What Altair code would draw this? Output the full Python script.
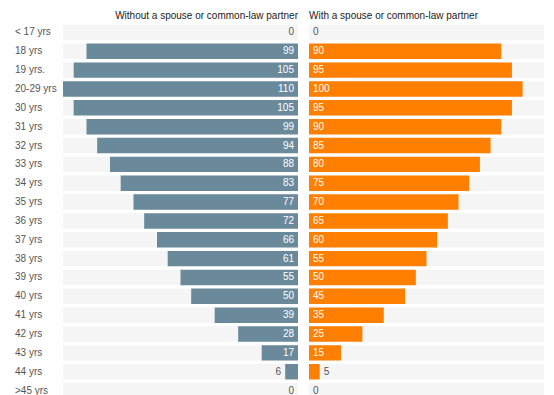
import altair as alt
import pandas as pd

categories = ["< 17 yrs", "18 yrs", "19 yrs.", "20-29 yrs", "30 yrs", "31 yrs", "32 yrs",
              "33 yrs", "34 yrs", "35 yrs", "36 yrs", "37 yrs", "38 yrs", "39 yrs",
              "40 yrs", "41 yrs", "42 yrs", "43 yrs", "44 yrs", ">45 yrs"]
without_partner = [0, 99, 105, 110, 105, 99, 94, 88, 83, 77, 72, 66, 61, 55, 50, 39, 28, 17, 6, 0]
with_partner = [0, 90, 95, 100, 95, 90, 85, 80, 75, 70, 65, 60, 55, 50, 45, 35, 25, 15, 5, 0]

title_left = "Without a spouse or common-law partner"
title_right = "With a spouse or common-law partner"

df = pd.DataFrame({"cat": categories, "wo": without_partner, "wi": with_partner})

FONT = "Liberation Sans"
H = 377
XMAX = 110
yenc = alt.Y("cat:N", sort=categories, axis=None,
             scale=alt.Scale(paddingInner=0.18, paddingOuter=0.09))

base = alt.Chart(df)

labels = base.mark_text(align="left", baseline="middle", font=FONT, fontSize=10,
                        color="#555555").encode(
    y=yenc, x=alt.value(7), text="cat:N"
).properties(width=40, height=H,
             title=alt.TitleParams(" ", fontSize=10, font=FONT, offset=2))


def panel(field, reverse, color, title, anchor):
    xs = alt.Scale(domain=[0, XMAX], reverse=reverse)
    bg = base.mark_bar(color="#f5f5f5").encode(
        y=yenc, x=alt.datum(XMAX, scale=xs, axis=None), x2=alt.datum(0))
    bar = base.mark_bar(color=color).encode(
        y=yenc, x=alt.X(f"{field}:Q", scale=xs, axis=None))
    sign = -1 if reverse else 1
    align = "right" if reverse else "left"
    txt = base.transform_calculate(
        pos=f"datum.{field} < 10 ? datum.{field} : 0",
        inside=f"datum.{field} >= 10"
    ).mark_text(align=align, baseline="middle", dx=4 * sign, font=FONT, fontSize=10).encode(
        y=yenc,
        x=alt.X("pos:Q", scale=xs, axis=None),
        text=alt.Text(f"{field}:Q"),
        color=alt.condition("datum.inside", alt.value("white"), alt.value("#555555")),
    )
    return alt.layer(bg, bar, txt).properties(
        width=235, height=H,
        title=alt.TitleParams(title, anchor=anchor, fontSize=10, font=FONT,
                              fontWeight="normal", color="#222222", offset=2))


left = panel("wo", True, "#6a8a9c", title_left, "end")
right = panel("wi", False, "#ff8000", title_right, "start")

chart = alt.hconcat(labels, alt.hconcat(left, right, spacing=11), spacing=6).properties(
    padding={"top": 3, "left": 0, "right": 0, "bottom": 0}
).configure_view(stroke=None)

chart.save("out.html", embed_options={"renderer": "svg", "actions": False})
